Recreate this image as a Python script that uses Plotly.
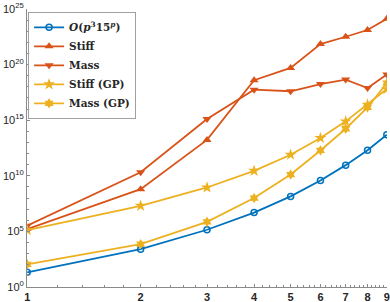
import math
import plotly.graph_objects as go

p = [1, 2, 3, 4, 5, 6, 7, 8, 9]
bound = [2.1e1, 2.5e3, 1.4e5, 4.9e6, 1.4e8, 3.8e9, 9.1e10, 2.0e12, 5.0e13]
stiff = [1.6e5, 6.3e8, 1.7e13, 4.0e18, 5.0e19, 7.1e21, 3.2e22, 1.3e23, 1.3e24]
mass = [3.2e5, 2.1e10, 1.3e15, 5.6e17, 4.0e17, 1.8e18, 4.5e18, 7.9e17, 1.3e19]
stiff_gp = [1.3e5, 2.0e7, 8.9e8, 2.8e10, 7.9e11, 2.5e13, 7.9e14, 2.5e16, 6.3e17]
mass_gp = [1.1e2, 7.1e3, 7.2e5, 1.0e8, 1.3e10, 1.9e12, 1.7e14, 1.4e16, 2.2e18]
x_ticks = [1, 2, 3, 4, 5, 6, 7, 8, 9]
x_minor = [round(a + b / 10, 1) for a in range(1, 9) for b in (2, 4, 6, 8)]
y_exps = [0, 5, 10, 15, 20, 25]
y_minor = [10.0 ** e for e in range(0, 26)]

BLUE = "#0072BD"
ORANGE = "#D95319"
YELLOW = "#EDB120"

series = [
    ("<i>O</i>(<i>p</i><sup>3</sup>15<sup><i>p</i></sup>)", bound, BLUE, "circle-open", 6),
    ("Stiff", stiff, ORANGE, "triangle-up", 8),
    ("Mass", mass, ORANGE, "triangle-down", 8),
    ("Stiff (GP)", stiff_gp, YELLOW, "star", 9),
    ("Mass (GP)", mass_gp, YELLOW, "hexagram", 8),
]

fig = go.Figure()
for name, vals, col, sym, sz in series:
    fig.add_trace(go.Scatter(
        x=p, y=vals, name=name, mode="lines+markers",
        line=dict(color=col, width=1.8),
        marker=dict(symbol=sym, size=sz, color=col,
                    line=dict(color=col, width=1.5 if sym == "circle-open" else 0)),
    ))

axis_col = "#8a8a8a"
fig.update_layout(
    width=390, height=302,
    margin=dict(l=27, r=3, t=9, b=15),
    paper_bgcolor="white", plot_bgcolor="white",
    showlegend=True,
    legend=dict(
        x=0.003, y=0.99, xanchor="left", yanchor="top",
        bgcolor="white", bordercolor="#a0a0a0", borderwidth=1,
        font=dict(family="DejaVu Serif", size=10.5, color="#262626", weight="bold"),
        tracegroupgap=0, itemwidth=30,
    ),
    xaxis=dict(
        type="log", range=[-0.0005, math.log10(9) + 0.0005], automargin=False,
        tickmode="array", tickvals=x_ticks, ticktext=[str(v) for v in x_ticks],
        ticks="inside", ticklen=3, tickcolor=axis_col,
        showline=True, linecolor=axis_col, linewidth=1,
        showgrid=False, zeroline=False,
        tickfont=dict(family="Liberation Sans", size=11, color="#262626", weight="bold"),
        minor=dict(tickmode="array", tickvals=x_minor, ticks="inside", ticklen=2,
                   tickcolor=axis_col, showgrid=False),
    ),
    yaxis=dict(
        type="log", range=[-0.002, 25.002], automargin=False,
        tickmode="array", tickvals=[10.0 ** e for e in y_exps],
        ticktext=["10<sup>%d</sup>" % e for e in y_exps],
        ticks="inside", ticklen=3, tickcolor=axis_col,
        showline=True, linecolor=axis_col, linewidth=1,
        showgrid=False, zeroline=False,
        tickfont=dict(family="Liberation Sans", size=11, color="#262626"),
        minor=dict(tickmode="array", tickvals=y_minor, ticks="inside", ticklen=2,
                   tickcolor=axis_col, showgrid=False),
    ),
)

fig.write_html("out.html", config={"displayModeBar": False},
               post_script="document.body.style.margin='0';")
